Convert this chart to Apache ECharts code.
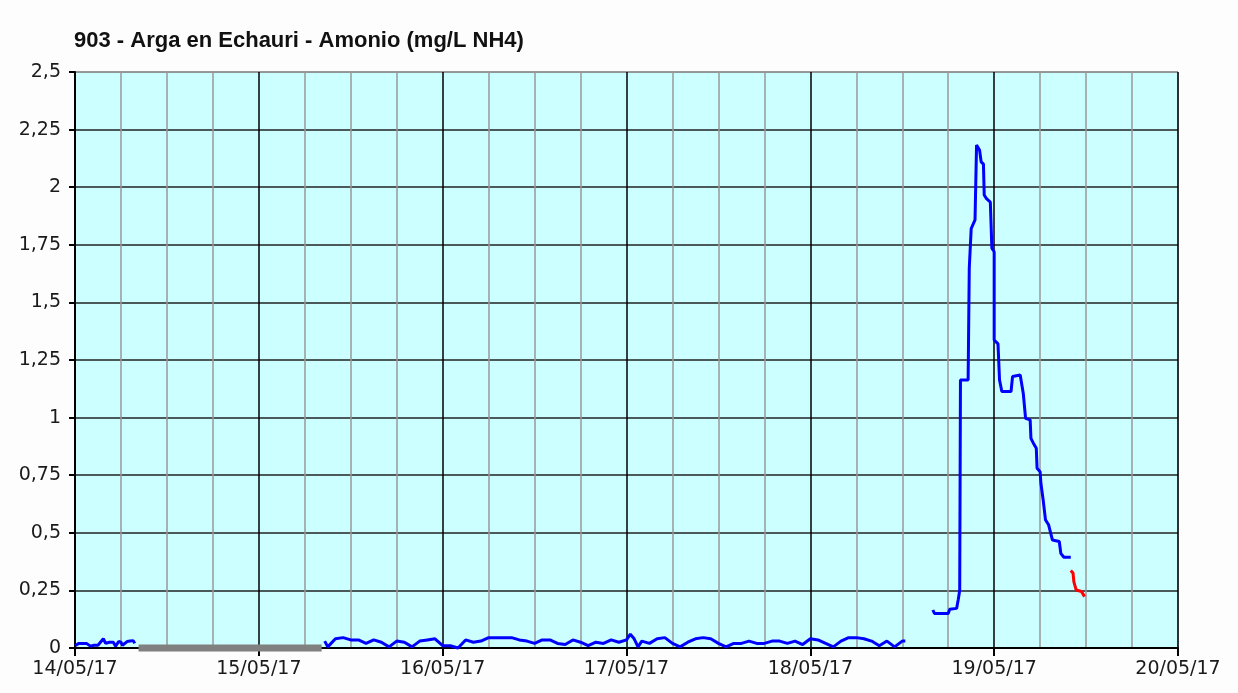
<!DOCTYPE html>
<html>
<head>
<meta charset="utf-8">
<script src="https://cdn.jsdelivr.net/npm/echarts@6/dist/echarts.min.js"></script>
<style>
  html, body { margin: 0; padding: 0; background: #fdfdfd; }
  #chart { width: 1238px; height: 693px; }
</style>
</head>
<body>
<div id="chart"></div>
<script>
// hours counted from 14/05/17 00:00
const dayLabels = ['14/05/17', '15/05/17', '16/05/17', '17/05/17', '18/05/17', '19/05/17', '20/05/17'];
const yTicks = [0, 0.25, 0.5, 0.75, 1, 1.25, 1.5, 1.75, 2, 2.25, 2.5];

// first stretch of readings (blue)
const lowA = [
  [0, 0.01], [0.5, 0.02], [1, 0.02], [1.5, 0.02], [2, 0.008], [2.5, 0.012], [3, 0.012],
  [3.7, 0.04], [4, 0.02], [4.5, 0.025], [5, 0.025], [5.3, 0.008], [5.7, 0.028], [6, 0.025],
  [6.2, 0.012], [6.8, 0.028], [7.2, 0.03], [7.6, 0.032], [7.8, 0.02]
];
// missing data bar (grey)
const gapBar = [[8.3, 0], [32.2, 0]];
// second stretch (blue)
const lowB = [
  [32.6, 0.03], [33, 0.005], [34, 0.04], [35, 0.045], [36, 0.035], [37, 0.035], [38, 0.02],
  [39, 0.035], [40, 0.025], [41, 0.005], [42, 0.03], [43, 0.025], [44, 0.005], [45, 0.03],
  [46, 0.035], [47, 0.04], [48, 0.01], [49, 0.01], [50, 0.0], [51, 0.035], [52, 0.025],
  [53, 0.03], [54, 0.045], [55, 0.045], [56, 0.045], [57, 0.045], [58, 0.035], [59, 0.03],
  [60, 0.02], [61, 0.035], [62, 0.035], [63, 0.02], [64, 0.015], [65, 0.035], [66, 0.025],
  [67, 0.01], [68, 0.025], [69, 0.02], [70, 0.035], [71, 0.025], [72, 0.035], [72.5, 0.06],
  [73, 0.04], [73.5, 0.005], [74, 0.03], [75, 0.02], [76, 0.04], [77, 0.045], [78, 0.02],
  [79, 0.005], [80, 0.025], [81, 0.04], [82, 0.045], [83, 0.04], [84, 0.02], [85, 0.005],
  [86, 0.02], [87, 0.02], [88, 0.03], [89, 0.02], [90, 0.02], [91, 0.03], [92, 0.03],
  [93, 0.02], [94, 0.03], [95, 0.015], [96, 0.04], [97, 0.035], [98, 0.02], [99, 0.005],
  [100, 0.03], [101, 0.045], [102, 0.045], [103, 0.04], [104, 0.03], [105, 0.01],
  [106, 0.03], [107, 0.005], [108, 0.03], [108.4, 0.03]
];
// episode (blue)
const peak = [
  [112, 0.165], [112.2, 0.15], [114, 0.15], [114.2, 0.168], [115.1, 0.172], [115.3, 0.208],
  [115.5, 0.25], [115.6, 1.163], [116.6, 1.163], [116.75, 1.17], [116.75, 1.648], [117, 1.82],
  [117.5, 1.858], [117.7, 2.183], [117.9, 2.18], [118.1, 2.16], [118.3, 2.11], [118.6, 2.1],
  [118.7, 1.966], [119, 1.95], [119.5, 1.935], [119.7, 1.735], [120, 1.72], [120, 1.337],
  [120.5, 1.32], [120.7, 1.163], [121, 1.113], [122.2, 1.113], [122.4, 1.178], [123.4, 1.185],
  [123.6, 1.19], [123.8, 1.105], [124.1, 0.997], [124.7, 0.99], [124.8, 0.91], [125.1, 0.89],
  [125.5, 0.867], [125.6, 0.78], [126, 0.765], [126.1, 0.715], [126.4, 0.642], [126.7, 0.556],
  [127.1, 0.535], [127.6, 0.469], [128.5, 0.462], [128.7, 0.411], [129.1, 0.394], [130, 0.394]
];
// latest readings (red)
const latest = [
  [130, 0.336], [130.3, 0.325], [130.4, 0.288], [130.7, 0.252], [131.4, 0.245], [131.8, 0.223]
];

const chart = echarts.init(document.getElementById('chart'));
const labelFont = { fontFamily: 'DejaVu Sans', fontSize: 19, color: '#1a1a1a' };

function blue(data) {
  return {
    type: 'line', data: data, xAxisIndex: 0, showSymbol: false, clip: false,
    lineStyle: { color: '#0000ff', width: 3 }, itemStyle: { color: '#0000ff' }, z: 3
  };
}

chart.setOption({
  backgroundColor: '#fdfdfd',
  animation: false,
  title: {
    text: '903 - Arga en Echauri - Amonio (mg/L NH4)',
    left: 69, top: 25,
    textStyle: { fontFamily: 'Liberation Sans', fontWeight: 'bold', fontSize: 22, color: '#111' }
  },
  grid: {
    left: 75, right: 60, top: 72, bottom: 45,
    show: true, backgroundColor: '#ccffff', borderColor: '#888', borderWidth: 1
  },
  xAxis: [
    {
      type: 'value', min: 0, max: 144, interval: 6,
      axisLine: { show: false }, axisTick: { show: false }, axisLabel: { show: false },
      splitLine: { show: true, lineStyle: { color: ['#000', '#999', '#999', '#999'], width: 1.5 } }
    },
    {
      type: 'value', min: 0, max: 144, interval: 24, position: 'bottom',
      axisLine: { show: true, onZero: false, lineStyle: { color: '#000', width: 2 } },
      axisTick: { show: true, length: 8, lineStyle: { color: '#000', width: 2 } },
      axisLabel: Object.assign({ margin: 12, formatter: v => dayLabels[Math.round(v / 24)] }, labelFont),
      splitLine: { show: false }
    }
  ],
  yAxis: {
    type: 'value', min: 0, max: yTicks[yTicks.length - 1], interval: 0.25,
    axisLine: { show: true, lineStyle: { color: '#000', width: 2 } },
    axisTick: { show: true, length: 6, lineStyle: { color: '#000', width: 2 } },
    axisLabel: Object.assign({ margin: 14, formatter: v => String(v).replace('.', ',') }, labelFont),
    splitLine: {
      show: true,
      lineStyle: { color: ['#000', '#222', '#222', '#222', '#222', '#222', '#222', '#222', '#222', '#222', '#888'], width: 1.5 }
    }
  },
  series: [
    blue(lowA),
    {
      type: 'line', data: gapBar, showSymbol: false, clip: false,
      lineStyle: { color: '#808080', width: 7 }, itemStyle: { color: '#808080' }, z: 3
    },
    blue(lowB),
    blue(peak),
    {
      type: 'line', data: latest, showSymbol: false, clip: false,
      lineStyle: { color: '#ff0000', width: 3 }, itemStyle: { color: '#ff0000' }, z: 3
    }
  ]
});
</script>
</body>
</html>
